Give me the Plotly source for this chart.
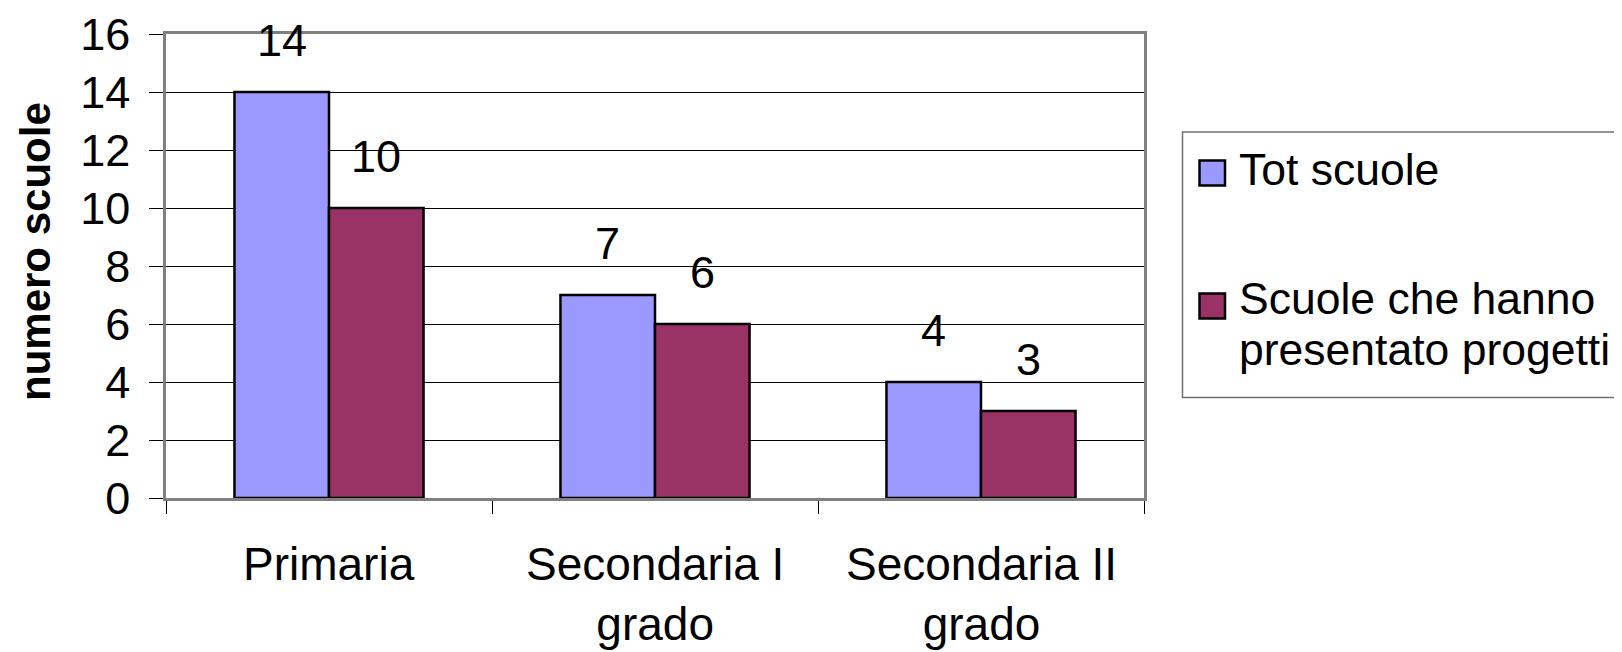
import plotly.graph_objects as go

# ---- data ----
categories = ["Primaria", "Secondaria I grado", "Secondaria II grado"]
category_labels = ["Primaria", "Secondaria I<br>grado", "Secondaria II<br>grado"]
series_names = ["Tot scuole", "Scuole che hanno presentato progetti"]
legend_labels = ["Tot scuole", "Scuole che hanno<br>presentato progetti"]
tot_scuole = [14, 7, 4]
scuole_progetti = [10, 6, 3]
y_ticks = [0, 2, 4, 6, 8, 10, 12, 14, 16]
y_title = "numero scuole"

colors = ["#9999FF", "#993366"]
FONT = "Liberation Sans, Arial, sans-serif"

OFF = 8  # page body margin
W, H = 1622 - OFF, 652 - OFF
ML, MT = 166 - OFF, 34 - OFF
PW, PH = 978, 464
MR = W - ML - PW
MB = H - MT - PH
BARGAP = 0.42


def px_x(px):
    return (px - OFF - ML) / PW


def px_y(py):
    return (H - MB - (py - OFF)) / PH


fig = go.Figure()
for name, vals, col in zip(series_names, [tot_scuole, scuole_progetti], colors):
    fig.add_trace(go.Bar(
        x=categories, y=vals, name=name,
        marker=dict(color=col, line=dict(color="black", width=2.5)),
        showlegend=False,
    ))

annotations = []
# data labels above bars
cat_w = PW / len(categories)
bar_off = cat_w * (1 - BARGAP) / 4
for si, vals in enumerate([tot_scuole, scuole_progetti]):
    shift = -bar_off if si == 0 else bar_off
    for c, v in zip(categories, vals):
        annotations.append(dict(
            x=c, y=v, xref="x", yref="y", text=str(v), showarrow=False,
            xanchor="center", yanchor="middle", xshift=shift, yshift=52,
            font=dict(family=FONT, size=45, color="black"),
        ))

# category labels
for c, lab in zip(categories, category_labels):
    annotations.append(dict(
        x=c, y=0, xref="x", yref="paper", text=lab, showarrow=False,
        xanchor="center", yanchor="top", yshift=-38,
        font=dict(family=FONT, size=46, color="black"),
    ))

# y-axis title
annotations.append(dict(
    x=px_x(35), y=px_y(252), xref="paper", yref="paper", text=y_title,
    showarrow=False, textangle=-90, xanchor="center", yanchor="middle",
    font=dict(family=FONT, size=42, color="black", weight="bold"),
))

# custom legend (box, swatches, labels)
shapes = [dict(
    type="rect", xref="paper", yref="paper",
    x0=px_x(1182.5), x1=px_x(1640), y0=px_y(132), y1=px_y(397.5),
    line=dict(color="#707070", width=1.5), fillcolor="white", layer="below",
)]
sq_tops = [159.5, 292.5]
text_tops = [143.3, 271.5]
for col, top, lab, ttop in zip(colors, sq_tops, legend_labels, text_tops):
    shapes.append(dict(
        type="rect", xref="paper", yref="paper",
        x0=px_x(1199.5), x1=px_x(1225), y0=px_y(top + 26), y1=px_y(top + 1),
        line=dict(color="black", width=2.5), fillcolor=col,
    ))
    annotations.append(dict(
        x=px_x(1237), y=px_y(ttop), xref="paper", yref="paper",
        text='<span style="font-size:44.5px">' + lab + "</span>",
        showarrow=False, xanchor="left", yanchor="top", align="left",
        font=dict(family=FONT, size=39.5, color="black"),
    ))

fig.update_layout(
    width=W, height=H,
    margin=dict(l=ML, r=MR, t=MT, b=MB, pad=0, autoexpand=False),
    paper_bgcolor="white", plot_bgcolor="white",
    barmode="group", bargap=BARGAP, bargroupgap=0,
    font=dict(family=FONT, size=45, color="black"),
    showlegend=False,
    annotations=annotations,
    shapes=shapes,
)
fig.update_xaxes(
    automargin=False,
    showticklabels=False, showgrid=False,
    showline=True, linecolor="#808080", linewidth=2.5, mirror=True,
    ticks="outside", tickson="boundaries", ticklen=13, tickcolor="black", tickwidth=1,
)
fig.update_yaxes(
    automargin=False,
    range=[0, 16], tickvals=y_ticks, ticktext=[str(t) for t in y_ticks],
    showgrid=True, gridcolor="black", gridwidth=1,
    showline=True, linecolor="#808080", linewidth=2.5, mirror=True,
    ticks="outside", ticklen=14, tickcolor="black", tickwidth=1,
    tickfont=dict(family=FONT, size=45, color="black"),
    ticklabelstandoff=10,
    zeroline=False,
)

fig.write_html("out.html")
